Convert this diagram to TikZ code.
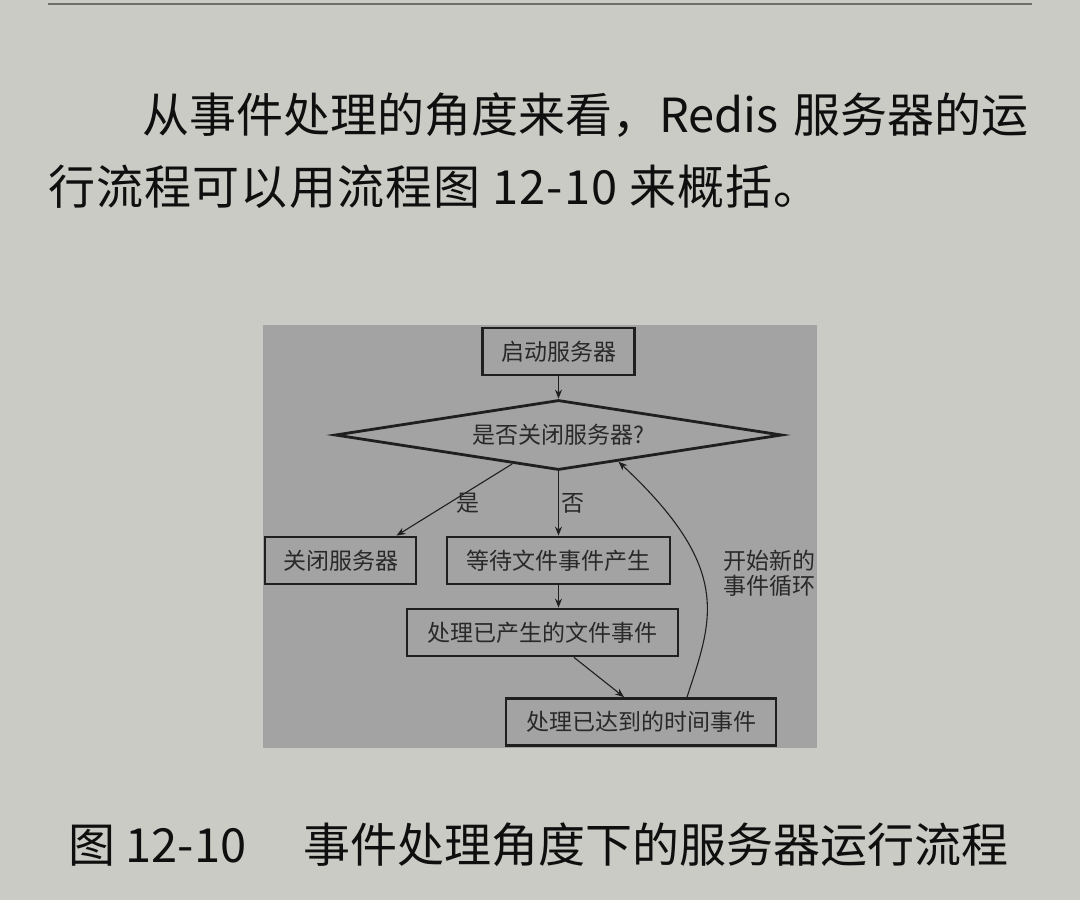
\documentclass[tikz,border=0pt]{standalone}
\usepackage{fontspec}
\setmainfont{Noto Sans CJK SC}
\newfontfamily\spreadfont[LetterSpace=2.5]{Noto Sans CJK SC}
\usepackage{xcolor}
\usepackage{tikz}
\usetikzlibrary{arrows.meta}
\usetikzlibrary{shapes.geometric}
\definecolor{pagebg}{HTML}{CBCBC5}
\definecolor{figbg}{HTML}{A3A3A3}
\definecolor{rulegray}{HTML}{6F6F6B}
\colorlet{figline}{black!88}
\colorlet{figtext}{black!84}
\colorlet{inktext}{black!94}
\newcommand\bigtxt{\fontsize{47}{56}\selectfont}
\newcommand\smalltxt{\fontsize{23}{25}\selectfont}
\tikzstyle{pagetext}=[anchor=base west,inner sep=0pt,text=inktext,font=\bigtxt]
\tikzstyle{stepbox}=[draw=figline,line width=2.8pt,text=figtext,font=\smalltxt,minimum height=47pt,inner sep=0pt]
\tikzstyle{askbox}=[stepbox,diamond,aspect=6.2,minimum width=447pt,minimum height=70pt]
\tikzstyle{yesno}=[inner sep=1pt,text=figtext,font=\smalltxt]
\tikzstyle{flowhead}=[>/.tip={Stealth[length=9pt,width=7pt]}]
\tikzstyle{flow}=[draw=figline,line width=1.1pt,flowhead,->]
\begin{document}
\begin{tikzpicture}[x=1pt,y=-1pt]
	\useasboundingbox (0,0) rectangle (1080,900);
	\fill[pagebg] (0,0) rectangle (1080,900);
	\draw[rulegray,line width=2.5pt] (48,4) -- (1032,4);
	\node[pagetext] (para1) at (48,132) {　　从事件处理的角度来看，Redis\hspace{15pt}服务器的运};
	\node[pagetext] (para2) at (48,204) {\spreadfont 行流程可以用流程图 12-10 来概括。};
	\fill[figbg] (263,325) rectangle (817,748);
	\node[stepbox,minimum width=152pt] (start) at (558.5,351.5) {启动服务器};
	\node[askbox] (ask) at (558.5,435) {是否关闭服务器?};
	\node[stepbox,minimum width=151pt] (stop) at (340.5,560.5) {关闭服务器};
	\node[stepbox,minimum width=223pt] (wait) at (558.5,560.5) {等待文件事件产生};
	\node[stepbox,minimum width=271pt] (file) at (542.5,632.5) {处理已产生的文件事件};
	\node[stepbox,minimum width=270pt] (time) at (641,722) {处理已达到的时间事件};
	\node[yesno,anchor=north west,align=left] (again) at (722,549) {开始新的\\事件循环};
	\draw[flow] (start) -- (ask);
	\draw[flow] (ask.-148) -- node[yesno,pos=.55,right=6pt]{是} ([xshift=56pt]stop.north);
	\draw[flow] (ask) -- node[yesno,right=1pt]{否} (wait);
	\draw[flow] (wait.south) -- (wait.south |- file.north);
	\draw[flow] ([xshift=31.5pt]file.south) -- ([xshift=-17pt]time.north);
	\draw[flow] ([xshift=46pt]time.north) .. controls +(25,-77) and +(116,108) .. (ask.-24);
	\node[pagetext] (caption) at (68,862) {图 12-10 　事件处理角度下的服务器运行流程};
\end{tikzpicture}
\end{document}
